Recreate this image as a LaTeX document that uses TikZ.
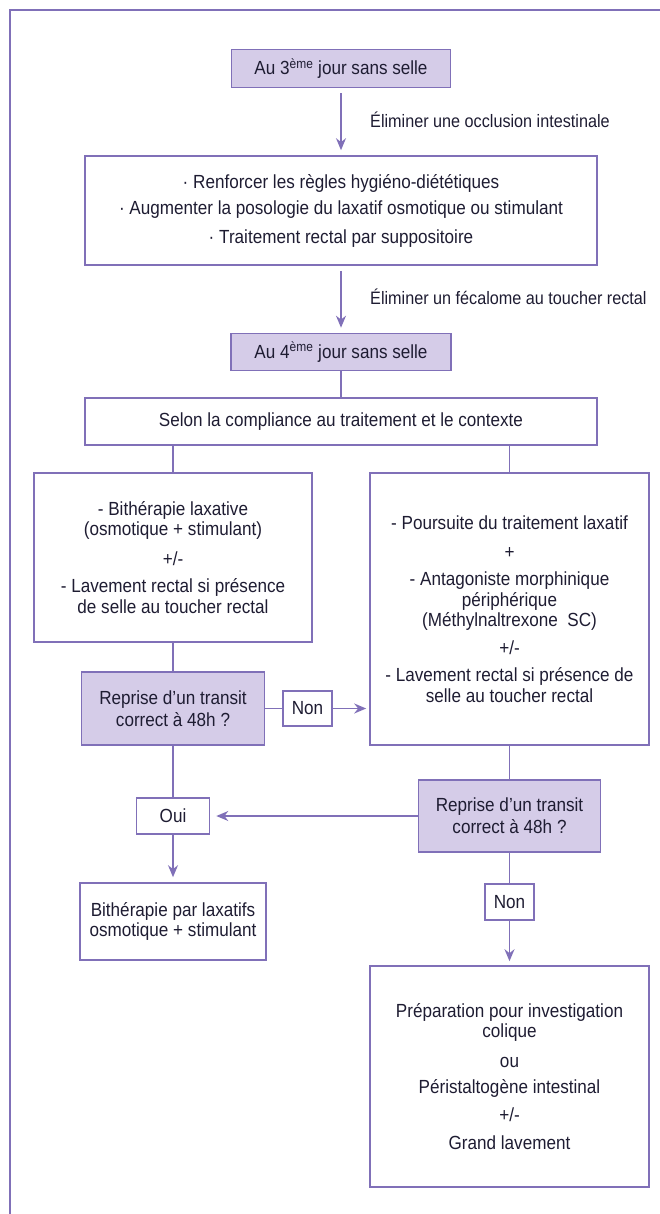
\documentclass[tikz,border=0pt]{standalone}
\usepackage{fontspec}
\setmainfont[FakeStretch=0.9]{Liberation Sans}
\usetikzlibrary{arrows.meta}
\definecolor{framecol}{RGB}{128,112,184}
\definecolor{boxfill}{RGB}{213,204,232}
\definecolor{txtcol}{RGB}{30,28,50}

\tikzset{
	box/.style={draw=framecol, line width=1.6pt, text=txtcol, align=center, inner sep=0pt, font=\fontsize{19}{20.5}\selectfont},
	daybox/.style={box, fill=boxfill},
	link/.style={draw=framecol, line width=1.6pt},
	arrow/.style={link, -{Stealth[length=12pt, width=10pt]}, shorten <=5pt, shorten >=5pt},
	note/.style={anchor=west, text=txtcol, inner sep=0pt, font=\fontsize{18}{20}\selectfont}
}

\begin{document}
\begin{tikzpicture}[x=1pt, y=-1pt]
			%%%%% START %%%%%
			\useasboundingbox (0,0) rectangle (659,1214);
			\draw[framecol, line width=2.2pt] (680,10) -- (10,10) -- (10,1230);
			
			\node[daybox, minimum width=219pt, minimum height=38pt] (jour3) at (341,68.5) {Au 3\textsuperscript{ème} jour sans selle};
			\node[box, minimum width=512pt, minimum height=109pt] (regles) at (341,210.5) {· Renforcer les règles hygiéno-diététiques\\[5.5pt] · Augmenter la posologie du laxatif osmotique ou stimulant\\[8.5pt] · Traitement rectal par suppositoire};
			\node[daybox, minimum width=220pt, minimum height=37pt] (jour4) at (341,352) {Au 4\textsuperscript{ème} jour sans selle};
			\node[box, minimum width=512pt, minimum height=47pt] (contexte) at (341,421.5) {Selon la compliance au traitement et le contexte};
			
			\node[box, minimum width=278pt, minimum height=169pt] (bitherapie) at (173,557.5) {- Bithérapie laxative\\(osmotique + stimulant)\\[9.5pt] +/-\\[6.5pt] - Lavement rectal si présence\\de selle au toucher rectal};
			\node[box, minimum width=279pt, minimum height=272pt] (poursuite) at (509.5,609) {- Poursuite du traitement laxatif\\[8.5pt] +\\[6.5pt] - Antagoniste morphinique\\périphérique\\(Méthylnaltrexone~~SC)\\[7.5pt] +/-\\[6.5pt] - Lavement rectal si présence de\\selle au toucher rectal};
			
			\node[daybox, minimum width=183pt, minimum height=73pt] (reprise1) at (173,708.5) {Reprise d’un transit\\[1.5pt] correct à 48h ?};
			\node[box, minimum width=49pt, minimum height=35pt] (non1) at (307.5,708.5) {Non};
			\node[box, minimum width=73pt, minimum height=36pt] (oui) at (173,816) {Oui};
			\node[box, minimum width=186pt, minimum height=77pt] (laxatifs) at (173,921.5) {Bithérapie par laxatifs\\osmotique + stimulant};
			
			\node[daybox, minimum width=182pt, minimum height=72pt] (reprise2) at (509.5,816) {Reprise d’un transit\\[1.5pt] correct à 48h ?};
			\node[box, minimum width=49pt, minimum height=36pt] (non2) at (509.5,902) {Non};
			\node[box, minimum width=279pt, minimum height=221pt] (colique) at (509.5,1076.5) {Préparation pour investigation\\colique\\[9.5pt] ou\\[5.5pt] Péristaltogène intestinal\\[7.5pt] +/-\\[7.5pt] Grand lavement};
			
			\node[note] (occlusion) at (370,120) {Éliminer une occlusion intestinale};
			\node[note] (fecalome) at (370,297) {Éliminer un fécalome au toucher rectal};
			
			\draw[arrow] (jour3) -- (regles);
			\draw[arrow] (regles) -- (jour4);
			\draw[link] (jour4) -- (contexte);
			\draw[link] (contexte.south -| bitherapie) -- (bitherapie);
			\draw[link] (contexte.south -| poursuite) -- (poursuite);
			
			\draw[link] (bitherapie) -- (reprise1);
			\draw[link] (reprise1) -- (non1);
			\draw[arrow, shorten <=0pt, shorten >=3pt] (non1) -- (poursuite.west |- non1);
			\draw[link] (reprise1) -- (oui);
			\draw[arrow, shorten <=0pt] (oui) -- (laxatifs);
			
			\draw[link] (poursuite) -- (reprise2);
			\draw[arrow, shorten <=0pt, shorten >=6pt] (reprise2) -- (oui);
			\draw[link] (reprise2) -- (non2);
			\draw[arrow, shorten <=0pt, shorten >=4pt] (non2) -- (colique);
			%%%%% END %%%%%
\end{tikzpicture}
\end{document}
